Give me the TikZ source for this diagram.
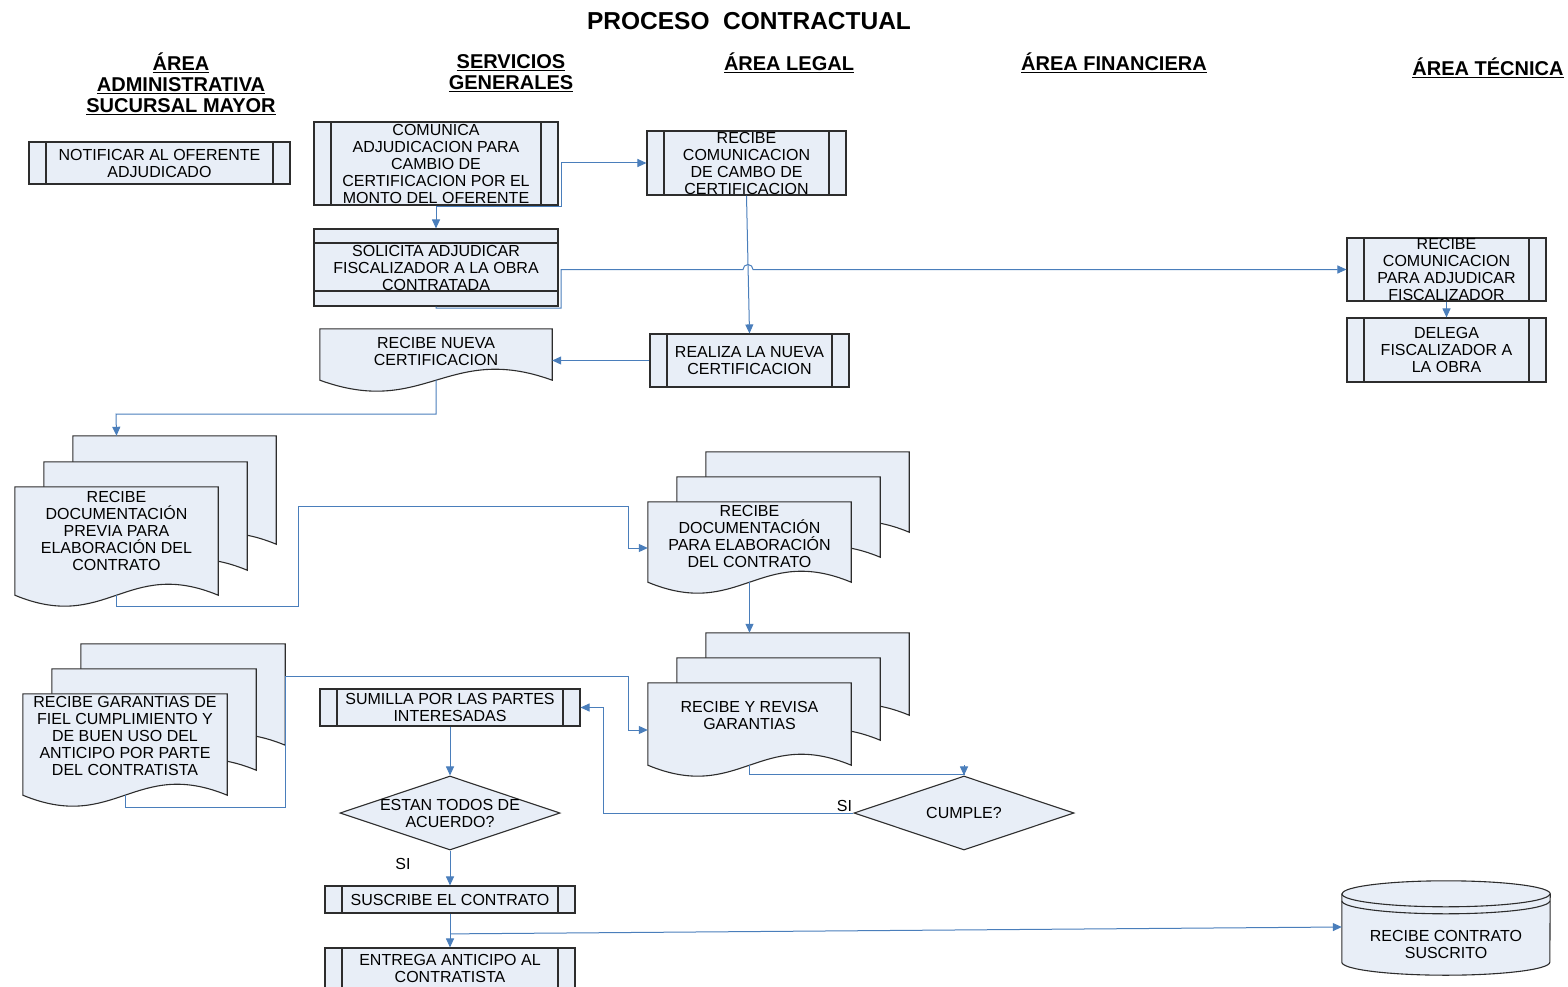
\documentclass[tikz,border=0pt]{standalone}
\usepackage{fontspec}
\setmainfont{Liberation Sans}
\usepackage{tikz}
\usetikzlibrary{shapes.geometric}
\usetikzlibrary{arrows.meta}
\usetikzlibrary{calc}
\usetikzlibrary{backgrounds}
\definecolor{fondo}{RGB}{232,238,247}
\definecolor{borde}{RGB}{45,45,45}
\definecolor{linea}{RGB}{74,126,187}
\newcommand{\texto}{\fontsize{16}{17}\selectfont}
\newcommand{\cabecera}{\fontsize{20}{21}\selectfont\bfseries}
\tikzset{caja/.style={draw=borde, fill=fondo, line width=1.1pt, align=center, inner sep=0pt, font=\texto},
%predefined process: two inner side lines
proceso/.style={caja, path picture={\draw[borde, line width=1.1pt]
  ([xshift=17pt]path picture bounding box.north west) -- ([xshift=17pt]path picture bounding box.south west)
  ([xshift=-17pt]path picture bounding box.north east) -- ([xshift=-17pt]path picture bounding box.south east);}},
bandas/.style={caja, path picture={\draw[borde, line width=1.1pt]
  ([yshift=-14pt]path picture bounding box.north west) -- ([yshift=-14pt]path picture bounding box.north east)
  ([yshift=15pt]path picture bounding box.south west) -- ([yshift=15pt]path picture bounding box.south east);}},
docu/.style={align=center, inner sep=0pt, font=\texto},
rombo/.style={caja, diamond, shape aspect=2.97, minimum width=220pt, minimum height=74pt},
hoja/.style={draw=borde, fill=fondo, line width=1.1pt},
flecha/.style={draw=linea, line width=1pt, -{Triangle[length=9pt,width=8pt]}},
tramo/.style={draw=linea, line width=1pt},
etiqueta/.style={font=\texto, inner sep=1pt},
titulo/.style={font=\cabecera, align=center}}
% document sheet behind a node, shifted by (#2,#3)
\newcommand{\dibujahoja}[3]{%
  \filldraw[hoja] ($(#1.north west)+(#2,#3)$) -- ($(#1.south west)+(#2,#3)$)
    .. controls ($(#1.south west)!0.45!(#1.south east)+(#2,#3)+(0,38)$)
    and ($(#1.south west)!0.55!(#1.south east)+(#2,#3)+(0,-38)$)
    .. ($(#1.south east)+(#2,#3)$) -- ($(#1.north east)+(#2,#3)$) -- cycle;}

\begin{document}
\begin{tikzpicture}[x=1pt,y=-1pt]
\useasboundingbox (0,0) rectangle (1568,987);

% headings
\node[titulo, font=\fontsize{24.5}{26}\selectfont\bfseries] (tit) at (749,21) {PROCESO~~CONTRACTUAL};
\node[titulo] (col1) at (181,84) {\underline{ÁREA}\\\underline{ADMINISTRATIVA}\\\underline{SUCURSAL MAYOR}};
\node[titulo] (col2) at (511,73.5) {\underline{SERVICIOS}\\\underline{GENERALES}};
\node[titulo] (col3) at (789,63) {\underline{ÁREA LEGAL}};
\node[titulo] (col4) at (1114,63) {\underline{ÁREA FINANCIERA}};
\node[titulo] (col5) at (1488,68) {\underline{ÁREA TÉCNICA}};

% steps
\node[proceso, minimum width=261pt, minimum height=42pt] (aa0) at (159.5,163) {NOTIFICAR AL OFERENTE\\ADJUDICADO};
\node[proceso, minimum width=244pt, minimum height=83pt] (sg1) at (436,163.5) {COMUNICA\\ADJUDICACION PARA\\CAMBIO DE\\CERTIFICACION POR EL\\MONTO DEL OFERENTE};
\node[proceso, minimum width=199pt, minimum height=64pt] (al1) at (746.5,163) {RECIBE\\COMUNICACION\\DE CAMBO DE\\CERTIFICACION};
\node[bandas, minimum width=244pt, minimum height=77pt] (sg2) at (436,267.5) {SOLICITA ADJUDICAR\\FISCALIZADOR A LA OBRA\\CONTRATADA};
\node[docu, minimum width=232pt, minimum height=51pt] (sg3) at (436,354.5) {RECIBE NUEVA\\CERTIFICACION\\[-11pt]};
\node[proceso, minimum width=199pt, minimum height=53pt] (al2) at (749.5,360.5) {REALIZA LA NUEVA\\CERTIFICACION};
\node[proceso, minimum width=199pt, minimum height=63pt] (at1) at (1446.5,269.5) {RECIBE\\COMUNICACION\\PARA ADJUDICAR\\FISCALIZADOR};
\node[proceso, minimum width=199pt, minimum height=64pt] (at2) at (1446.5,350) {DELEGA\\FISCALIZADOR A\\LA OBRA};
\node[docu, minimum width=203pt, minimum height=108pt] (aa1) at (116.5,541) {RECIBE\\DOCUMENTACIÓN\\PREVIA PARA\\ELABORACIÓN DEL\\CONTRATO\\[3pt]};
\node[docu, minimum width=203pt, minimum height=80pt] (al3) at (749.5,542) {RECIBE\\DOCUMENTACIÓN\\PARA ELABORACIÓN\\DEL CONTRATO\\[-6pt]};
\node[docu, minimum width=204pt, minimum height=101pt] (aa2) at (125,744.5) {RECIBE GARANTIAS DE\\FIEL CUMPLIMIENTO Y\\DE BUEN USO DEL\\ANTICIPO POR PARTE\\DEL CONTRATISTA\\[0pt]};
\node[docu, minimum width=203pt, minimum height=82pt] (al4) at (749.5,724) {RECIBE Y REVISA\\GARANTIAS\\[0pt]};
\node[proceso, minimum width=260pt, minimum height=37pt] (sg4) at (450,707.5) {SUMILLA POR LAS PARTES\\INTERESADAS};
\node[rombo] (sg5) at (450,813) {\makebox[0pt]{ESTAN TODOS DE}\\\makebox[0pt]{ACUERDO?}};
\node[rombo] (al5) at (964,813) {CUMPLE?};
\node[proceso, minimum width=250pt, minimum height=27pt] (sg6) at (450,899.5) {SUSCRIBE EL CONTRATO};
\node[proceso, minimum width=250pt, minimum height=40pt] (sg7) at (450,968) {ENTREGA ANTICIPO AL\\CONTRATISTA};
\node[docu, minimum width=208pt, minimum height=36pt] (at3) at (1446,944) {RECIBE CONTRATO\\SUSCRITO};

% sheets and store
\begin{scope}[on background layer]
\dibujahoja{sg3}{0}{0}
\dibujahoja{aa1}{58}{-51}
\dibujahoja{aa1}{29}{-25}
\dibujahoja{aa1}{0}{0}
\dibujahoja{al3}{58}{-50}
\dibujahoja{al3}{29}{-25}
\dibujahoja{al3}{0}{0}
\dibujahoja{aa2}{58}{-50}
\dibujahoja{aa2}{29}{-25}
\dibujahoja{aa2}{0}{0}
\dibujahoja{al4}{58}{-50}
\dibujahoja{al4}{29}{-25}
\dibujahoja{al4}{0}{0}
\filldraw[hoja] ($(at3.north west)+(0,-32)$) -- (at3.south west)
  arc[start angle=180, end angle=360, x radius=104pt, y radius=13pt]
  -- ($(at3.north east)+(0,-32)$)
  arc[start angle=0, end angle=180, x radius=104pt, y radius=13pt] -- cycle;
\draw[hoja, fill=none] ($(at3.north west)+(0,-32)$) arc[start angle=180, end angle=360, x radius=104pt, y radius=13pt];
\draw[hoja, fill=none] ($(at3.north west)+(0,-25)$) arc[start angle=180, end angle=360, x radius=104pt, y radius=13pt];
\end{scope}

% connectors
\draw[flecha] (sg1.south) -- (sg2.north);
\draw[flecha] (sg1.south) |- (561,207) |- (al1.west);
\draw[flecha] (sg2.south) |- (561,308) |- (743,269.5) arc[start angle=180, end angle=0, radius=5pt] -- (at1.west);
\draw[flecha] (al1.south) -- (al2.north);
\draw[flecha] (al2.west) -- (al2.west -| sg3.east);
\draw[flecha] (at1.south) -- (at2.north);
\draw[flecha] (sg3.south) |- (116,414) -- ($(aa1.north)+(0,-51)$);
\draw[flecha] (aa1.south) |- (298,606) |- (628,506) |- ($(al3.west)+(0,6)$);
\draw[flecha] (al3.south) -- ($(al4.north)+(0,-50)$);
\draw[flecha] (aa2.south) |- (285,807) |- (628,676) |- ($(al4.west)+(0,6)$);
\draw[tramo] (al4.south) -- ++(0,9) -| (al5.north);
\draw[flecha] ($(al5.north)+(0,-10)$) -- (al5.north);
\draw[flecha] (al5.west) node[etiqueta, anchor=south east] (si1) {SI} -- (603,813) |- (sg4.east);
\draw[flecha] (sg4.south) -- (sg5.north);
\draw[flecha] (sg5.south) -- (sg6.north);
\node[etiqueta] (si2) at (403,864) {SI};
\draw[flecha] (sg6.south) -- (sg7.north);
\coordinate (ramal) at ($(sg6.south)!0.6!(sg7.north)$);
\draw[flecha] (ramal) -- ($(at3.west)+(0,-17)$);

\end{tikzpicture}
\end{document}
